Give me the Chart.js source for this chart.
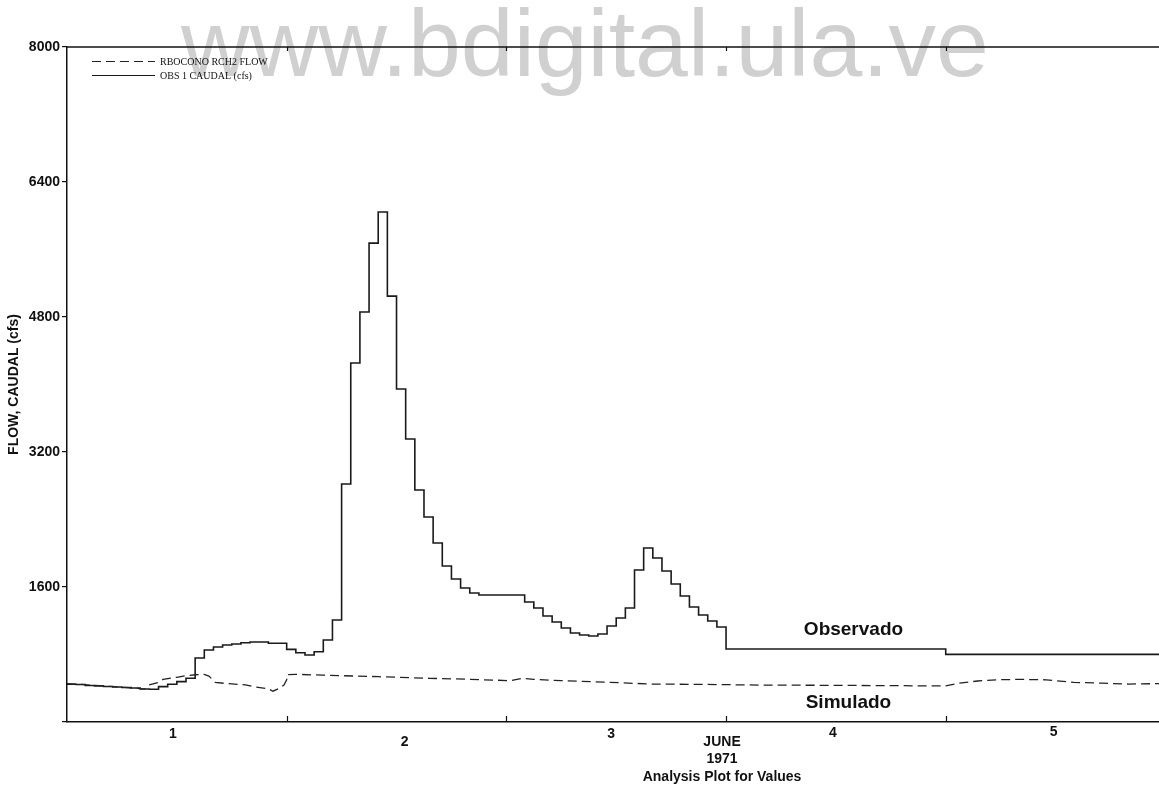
<!DOCTYPE html>
<html>
<head>
<meta charset="utf-8">
<script src="https://cdn.jsdelivr.net/npm/chart.js@4.4.1/dist/chart.umd.min.js"></script>
<style>
  html, body { margin: 0; padding: 0; background: #ffffff; }
  #wrap { width: 1159px; height: 788px; }
</style>
</head>
<body>
<div id="wrap"><canvas id="c" width="1159" height="788"></canvas></div>
<script>
// ---------------- DATA ----------------
// x values are hours from the start of day 1 (June 1971)
const seriesNames = ['RBOCONO RCH2 FLOW', 'OBS 1 CAUDAL (cfs)'];

// Observed flow (OBS 1 CAUDAL), hourly step values, cfs
const obsHours = [0,1,2,3,4,5,6,7,8,9,10,11,12,13,14,15,16,17,18,19,20,21,22,23,
                  24,25,26,27,28,29,30,31,32,33,34,35,36,37,38,39,40,41,42,43,44,45,
                  50,51,52,53,54,55,56,57,58,59,60,61,62,63,64,65,66,67,68,69,70,71,
                  72,96,119.3];
const obsFlow  = [447,444,433,427,421,415,409,403,391,388,419,447,478,518,758,853,889,912,924,940,948,948,933,933,
                  861,821,794,833,972,1209,2820,4254,4859,5676,6044,5048,3946,3354,2749,2429,2121,1849,1695,1588,1529,1505,
                  1422,1351,1256,1185,1114,1055,1031,1019,1043,1138,1233,1351,1801,2062,1944,1790,1635,1493,1363,1268,1197,1126,
                  865,802,802];

// Simulated flow (RBOCONO RCH2 FLOW), cfs
const simHours = [0,3.6,6.3,8.5,9,10,10.5,12,13,14,15,15.5,16.2,17.5,19.5,20.5,22,22.5,23.2,23.7,24,24.05,
                  25,28,34,39.6,44,48.4,49.8,51,54,59.3,63.7,69,75.7,85,96,97.5,99.5,101.5,104,107,110,113,116,119.3];
const simFlow  = [456,430,410,390,440,470,505,530,548,560,565,545,470,455,440,415,395,365,399,438,500,560,
                  565,555,537,518,506,490,518,505,490,470,450,446,438,434,427,462,486,500,505,500,470,460,450,455];

// Axis ticks and labels
const yTicks = [0,1600,3200,4800,6400,8000];
const dayBoundaries = [24,48,72,96];
const dayCenters = [12,36,60,84,108];
const dayLabels = ['1','2','3','4','5'];
const xTitleLines = ['JUNE','1971','Analysis Plot for Values'];
const yTitle = 'FLOW, CAUDAL (cfs)';
const annotations = [
  {text: 'Observado', hour: 80.5, value: 1090},
  {text: 'Simulado',  hour: 80.7, value: 225}
];
// ------------------------------------------------------------------------

const toPoints = (xs, ys) => xs.map((x, i) => ({x: x, y: ys[i]}));
const INK = '#111111';
const SANS = '"Liberation Sans", Arial, sans-serif';
const SERIF = '"Liberation Serif", "Times New Roman", serif';
// small per-label nudges to follow the scanned original
const labelNudge = [[-4,0],[8,8],[-5,0],[-3,-1],[-2,-2]];

const decor = {
  id: 'decor',
  beforeDraw(chart) {
    const ctx = chart.ctx;
    ctx.save();
    ctx.fillStyle = '#ffffff';
    ctx.fillRect(0, 0, chart.width, chart.height);
    // watermark
    ctx.fillStyle = '#d0d0d0';
    ctx.font = '95px ' + SANS;
    ctx.textAlign = 'center';
    ctx.textBaseline = 'alphabetic';
    ctx.fillText('www.bdigital.ula.ve', 585, 76);
    ctx.restore();
  },
  afterDraw(chart) {
    const ctx = chart.ctx;
    const a = chart.chartArea;
    const xs = chart.scales.x, ys = chart.scales.y;
    ctx.save();
    // top frame line
    ctx.strokeStyle = INK;
    ctx.lineWidth = 1.5;
    ctx.beginPath();
    ctx.moveTo(a.left, a.top);
    ctx.lineTo(a.right, a.top);
    ctx.stroke();
    // inward day tick marks (bottom and top)
    ctx.lineWidth = 1.2;
    dayBoundaries.forEach(h => {
      const px = Math.round(xs.getPixelForValue(h)) + 0.5;
      ctx.beginPath();
      ctx.moveTo(px, a.bottom); ctx.lineTo(px, a.bottom - 6);
      ctx.moveTo(px, a.top); ctx.lineTo(px, a.top + 4);
      ctx.stroke();
    });
    // day labels
    ctx.fillStyle = INK;
    ctx.font = 'bold 14px ' + SANS;
    ctx.textAlign = 'center';
    ctx.textBaseline = 'middle';
    dayCenters.forEach((h, i) => {
      const px = xs.getPixelForValue(h) + labelNudge[i][0];
      ctx.fillText(dayLabels[i], px, a.bottom + 12 + labelNudge[i][1]);
    });
    // x title (three lines)
    const tx = xs.getPixelForValue(72) - 4;
    xTitleLines.forEach((t, i) => {
      ctx.fillText(t, tx, a.bottom + 20 + i * 17.5);
    });
    // annotations
    ctx.font = 'bold 19px ' + SANS;
    ctx.textAlign = 'left';
    annotations.forEach(an => {
      ctx.fillText(an.text, xs.getPixelForValue(an.hour), ys.getPixelForValue(an.value));
    });
    // legend (inside plot, top-left)
    const dsets = chart.data.datasets;
    ctx.font = '10px ' + SERIF;
    ctx.textBaseline = 'middle';
    [61, 75].forEach((ly, i) => {
      const ds = dsets[i];
      ctx.strokeStyle = ds.borderColor;
      ctx.lineWidth = 1.2;
      ctx.setLineDash(ds.borderDash || []);
      ctx.beginPath();
      ctx.moveTo(a.left + 25, ly + 0.5);
      ctx.lineTo(a.left + 88, ly + 0.5);
      ctx.stroke();
      ctx.setLineDash([]);
      ctx.fillStyle = INK;
      ctx.fillText(ds.label, a.left + 93, ly + 1);
    });
    ctx.restore();
  }
};

new Chart(document.getElementById('c'), {
  type: 'line',
  data: {
    datasets: [
      {
        label: seriesNames[0],
        data: toPoints(simHours, simFlow),
        borderColor: '#222222',
        borderWidth: 1.3,
        borderDash: [9, 5],
        pointRadius: 0,
        tension: 0,
        fill: false
      },
      {
        label: seriesNames[1],
        data: toPoints(obsHours, obsFlow),
        borderColor: '#1a1a1a',
        borderWidth: 1.6,
        stepped: true,
        pointRadius: 0,
        fill: false
      }
    ]
  },
  options: {
    responsive: false,
    animation: false,
    events: [],
    layout: { padding: { left: 0, right: 0, top: 47, bottom: 0 } },
    plugins: { legend: { display: false }, tooltip: { enabled: false } },
    scales: {
      x: {
        type: 'linear',
        min: 0,
        max: 119.3,
        ticks: { display: false },
        grid: { display: false },
        border: { display: true, color: INK, width: 1.5 },
        afterFit: s => { s.height = 66; }
      },
      y: {
        type: 'linear',
        min: 0,
        max: 8000,
        afterBuildTicks: s => { s.ticks = yTicks.map(v => ({ value: v })); },
        ticks: {
          color: INK,
          padding: 2,
          font: { family: SANS, size: 14, weight: 'bold' },
          callback: v => (v === 0 ? '' : String(v))
        },
        grid: { display: true, drawOnChartArea: false, drawTicks: true, tickLength: 5, color: INK, lineWidth: 1.2 },
        border: { display: true, color: INK, width: 1.5 },
        title: {
          display: true,
          text: yTitle,
          color: INK,
          font: { family: SANS, size: 14, weight: 'bold' },
          padding: { top: 6, bottom: 4 }
        },
        afterFit: s => { s.width = 67; }
      }
    }
  },
  plugins: [decor]
});
</script>
</body>
</html>
